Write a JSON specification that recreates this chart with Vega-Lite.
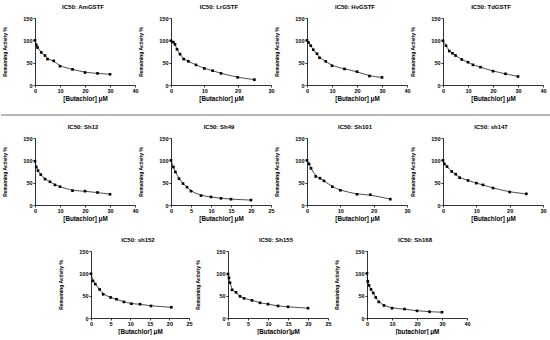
{
  "$schema": "https://vega.github.io/schema/vega-lite/v6.json",
  "padding": {"left": 0, "top": 4, "right": 0, "bottom": 0},
  "background": "white",
  "config": {
    "view": {"stroke": null},
    "font": "Liberation Sans",
    "axis": {"domainColor": "black", "tickColor": "black", "labelColor": "black", "titleColor": "black", "grid": false, "labelFont": "Liberation Sans", "titleFont": "Liberation Sans", "labelFontWeight": "bold", "titleFontWeight": "bold", "labelFontSize": 5.5, "tickSize": 2, "domainWidth": 0.8, "tickWidth": 0.8, "labelPadding": 1, "labelOverlap": false},
    "axisY": {"titlePadding": 15, "titleFontSize": 4.9, "titleColor": "black"},
    "axisX": {"titlePadding": 1.5, "labelFlush": false, "titleFontSize": 6.3, "titleColor": "black"},
    "title": {"fontSize": 6, "fontWeight": "bold", "font": "Liberation Sans", "frame": "group", "offset": 6, "dx": -2, "color": "black"},
    "line": {"color": "black", "strokeWidth": 0.7, "interpolate": "basis"},
    "square": {"color": "black", "filled": true, "size": 7, "opacity": 1}
  },
  "datasets": {
    "AmGSTF": [{"c":0,"a":100},{"c":0.5,"a":90},{"c":1,"a":84},{"c":2.5,"a":73},{"c":4,"a":66},{"c":5,"a":58},{"c":7.5,"a":54},{"c":10,"a":42},{"c":15,"a":35},{"c":20,"a":28},{"c":25,"a":26},{"c":30,"a":24}],
    "LrGSTF": [{"c":0,"a":99},{"c":0.7,"a":96},{"c":1.2,"a":91},{"c":1.8,"a":80},{"c":2.7,"a":69},{"c":3.8,"a":58},{"c":5.2,"a":53},{"c":7.5,"a":45},{"c":10,"a":37},{"c":12.5,"a":32},{"c":15,"a":26},{"c":20,"a":17},{"c":25,"a":12}],
    "HvGSTF": [{"c":0,"a":100},{"c":0.6,"a":95},{"c":1.5,"a":88},{"c":2.5,"a":79},{"c":4,"a":70},{"c":5,"a":61},{"c":7.5,"a":53},{"c":10,"a":43},{"c":15,"a":36},{"c":20,"a":30},{"c":25,"a":20},{"c":30,"a":17}],
    "TdGSTF": [{"c":0,"a":99},{"c":1.2,"a":88},{"c":2.5,"a":76},{"c":3.8,"a":71},{"c":5,"a":66},{"c":7.5,"a":57},{"c":10,"a":51},{"c":12,"a":45},{"c":15,"a":40},{"c":20,"a":31},{"c":25,"a":25},{"c":30,"a":19}],
    "Sh12": [{"c":0,"a":98},{"c":0.5,"a":85},{"c":1.2,"a":77},{"c":2.3,"a":68},{"c":4,"a":58},{"c":6,"a":52},{"c":8,"a":45},{"c":10,"a":41},{"c":15,"a":32},{"c":20,"a":31},{"c":25,"a":28},{"c":30,"a":24}],
    "Sh49": [{"c":0,"a":100},{"c":0.6,"a":85},{"c":1.1,"a":74},{"c":2,"a":59},{"c":3,"a":48},{"c":4,"a":40},{"c":5,"a":31},{"c":7.5,"a":21},{"c":10,"a":18},{"c":12.5,"a":15},{"c":15,"a":13},{"c":20,"a":11}],
    "Sh101": [{"c":0,"a":100},{"c":0.6,"a":92},{"c":1.2,"a":82},{"c":2.6,"a":64},{"c":3.9,"a":60},{"c":5.1,"a":54},{"c":7.6,"a":41},{"c":10,"a":33},{"c":15,"a":24},{"c":19,"a":23},{"c":25,"a":13}],
    "sh147": [{"c":0,"a":100},{"c":0.4,"a":92},{"c":1.2,"a":86},{"c":2.6,"a":75},{"c":3.8,"a":69},{"c":5,"a":61},{"c":7.5,"a":55},{"c":10,"a":49},{"c":12,"a":45},{"c":15,"a":38},{"c":20,"a":29},{"c":25,"a":25}],
    "sh152": [{"c":0,"a":99},{"c":0.5,"a":83},{"c":1.1,"a":76},{"c":2.2,"a":64},{"c":3.1,"a":53},{"c":5,"a":46},{"c":6.5,"a":42},{"c":8.4,"a":36},{"c":10.3,"a":32},{"c":12.5,"a":31},{"c":15.3,"a":27},{"c":20.5,"a":24}],
    "Sh155": [{"c":0,"a":98.5},{"c":0.25,"a":90},{"c":0.5,"a":79},{"c":1,"a":63},{"c":2,"a":57.5},{"c":3,"a":48.5},{"c":4,"a":44},{"c":6,"a":39.5},{"c":8,"a":34},{"c":10,"a":31},{"c":12.5,"a":27},{"c":15,"a":25},{"c":20,"a":22}],
    "Sh168": [{"c":0,"a":100},{"c":0.3,"a":82},{"c":0.8,"a":73},{"c":1.6,"a":64},{"c":2.5,"a":56},{"c":3.5,"a":46},{"c":4.7,"a":36},{"c":6.8,"a":28},{"c":10,"a":22},{"c":15,"a":20},{"c":20,"a":16},{"c":25,"a":14},{"c":30,"a":13}],
    "sep": [{"v": 9}],
    "blank": [{"v": 0}]
  },
  "spacing": 0,
  "vconcat": [
    {
      "hconcat": [
        {"title": "IC50: AmGSTF", "width": 100, "height": 67, "data": {"name": "AmGSTF"},
         "encoding": {"x": {"field": "c", "type": "quantitative", "scale": {"domain": [0, 40]}, "axis": {"title": "[Butachlor] μM", "values": [0, 10, 20, 30, 40]}}, "y": {"field": "a", "type": "quantitative", "scale": {"domain": [0, 150]}, "axis": {"title": "Remaining Activity %", "values": [0, 50, 100, 150]}}},
         "layer": [{"mark": "line"}, {"mark": "square"}]},
        {"title": "IC50: LrGSTF", "width": 100, "height": 67, "data": {"name": "LrGSTF"},
         "encoding": {"x": {"field": "c", "type": "quantitative", "scale": {"domain": [0, 30]}, "axis": {"title": "[Butachlor] μM", "values": [0, 10, 20, 30]}}, "y": {"field": "a", "type": "quantitative", "scale": {"domain": [0, 150]}, "axis": {"title": "Remaining Activity %", "values": [0, 50, 100, 150]}}},
         "layer": [{"mark": "line"}, {"mark": "square"}]},
        {"title": "IC50: HvGSTF", "width": 100, "height": 67, "data": {"name": "HvGSTF"},
         "encoding": {"x": {"field": "c", "type": "quantitative", "scale": {"domain": [0, 40]}, "axis": {"title": "[Butachlor] μM", "values": [0, 10, 20, 30, 40]}}, "y": {"field": "a", "type": "quantitative", "scale": {"domain": [0, 150]}, "axis": {"title": "Remaining Activity %", "values": [0, 50, 100, 150]}}},
         "layer": [{"mark": "line"}, {"mark": "square"}]},
        {"title": "IC50: TdGSTF", "width": 100, "height": 67, "data": {"name": "TdGSTF"},
         "encoding": {"x": {"field": "c", "type": "quantitative", "scale": {"domain": [0, 40]}, "axis": {"title": "[Butachlor] μM", "values": [0, 10, 20, 30, 40]}}, "y": {"field": "a", "type": "quantitative", "scale": {"domain": [0, 150]}, "axis": {"title": "Remaining Activity %", "values": [0, 50, 100, 150]}}},
         "layer": [{"mark": "line"}, {"mark": "square"}]}
      ],
      "spacing": 36, "bounds": "flush"
    },
    {
      "width": 516, "height": 22, "data": {"name": "sep"},
      "mark": {"type": "rule", "color": "#a0a0a0", "strokeWidth": 1.5},
      "encoding": {
        "x": {"datum": -34, "type": "quantitative", "scale": {"domain": [0, 516]}, "axis": null},
        "x2": {"datum": 516},
        "y": {"field": "v", "type": "quantitative", "scale": {"domain": [0, 22]}, "axis": null}
      }
    },
    {
      "hconcat": [
        {"title": "IC50: Sh12", "width": 100, "height": 67, "data": {"name": "Sh12"},
         "encoding": {"x": {"field": "c", "type": "quantitative", "scale": {"domain": [0, 40]}, "axis": {"title": "[Butachlor] μM", "values": [0, 10, 20, 30, 40]}}, "y": {"field": "a", "type": "quantitative", "scale": {"domain": [0, 150]}, "axis": {"title": "Remaining Activity %", "values": [0, 50, 100, 150]}}},
         "layer": [{"mark": "line"}, {"mark": "square"}]},
        {"title": "IC50: Sh49", "width": 100, "height": 67, "data": {"name": "Sh49"},
         "encoding": {"x": {"field": "c", "type": "quantitative", "scale": {"domain": [0, 25]}, "axis": {"title": "[Butachlor] μM", "values": [0, 5, 10, 15, 20, 25]}}, "y": {"field": "a", "type": "quantitative", "scale": {"domain": [0, 150]}, "axis": {"title": "Remaining Activity %", "values": [0, 50, 100, 150]}}},
         "layer": [{"mark": "line"}, {"mark": "square"}]},
        {"title": "IC50: Sh101", "width": 100, "height": 67, "data": {"name": "Sh101"},
         "encoding": {"x": {"field": "c", "type": "quantitative", "scale": {"domain": [0, 30]}, "axis": {"title": "[Butachlor] μM", "values": [0, 10, 20, 30]}}, "y": {"field": "a", "type": "quantitative", "scale": {"domain": [0, 150]}, "axis": {"title": "Remaining Activity %", "values": [0, 50, 100, 150]}}},
         "layer": [{"mark": "line"}, {"mark": "square"}]},
        {"title": "IC50: sh147", "width": 100, "height": 67, "data": {"name": "sh147"},
         "encoding": {"x": {"field": "c", "type": "quantitative", "scale": {"domain": [0, 30]}, "axis": {"title": "[Butachlor] μM", "values": [0, 10, 20, 30]}}, "y": {"field": "a", "type": "quantitative", "scale": {"domain": [0, 150]}, "axis": {"title": "Remaining Activity %", "values": [0, 50, 100, 150]}}},
         "layer": [{"mark": "line"}, {"mark": "square"}]}
      ],
      "spacing": 36, "bounds": "flush"
    },
    {
      "width": 516, "height": 15, "data": {"name": "blank"},
      "mark": {"type": "rule", "strokeOpacity": 0},
      "encoding": {"y": {"field": "v", "type": "quantitative", "axis": null}}
    },
    {
      "hconcat": [
        {"width": 17, "height": 10, "data": {"name": "blank"},
         "mark": {"type": "rule", "strokeOpacity": 0},
         "encoding": {"y": {"field": "v", "type": "quantitative", "axis": null}}},
        {"title": "IC50: sh152", "width": 98, "height": 67, "data": {"name": "sh152"},
         "encoding": {"x": {"field": "c", "type": "quantitative", "scale": {"domain": [0, 25]}, "axis": {"title": "[Butachlor] μM", "values": [0, 5, 10, 15, 20, 25]}}, "y": {"field": "a", "type": "quantitative", "scale": {"domain": [0, 150]}, "axis": {"title": "Remaining Activity %", "values": [0, 50, 100, 150]}}},
         "layer": [{"mark": "line"}, {"mark": "square"}]},
        {"title": "IC50: Sh155", "width": 100, "height": 67, "data": {"name": "Sh155"},
         "encoding": {"x": {"field": "c", "type": "quantitative", "scale": {"domain": [0, 25]}, "axis": {"title": "[Butachlor]μM", "values": [0, 5, 10, 15, 20, 25]}}, "y": {"field": "a", "type": "quantitative", "scale": {"domain": [0, 150]}, "axis": {"title": "Remaining Activity %", "values": [0, 50, 100, 150]}}},
         "layer": [{"mark": "line"}, {"mark": "square"}]},
        {"title": "IC50: Sh168", "width": 100, "height": 67, "data": {"name": "Sh168"},
         "encoding": {"x": {"field": "c", "type": "quantitative", "scale": {"domain": [0, 40]}, "axis": {"title": "[butachlor] μM", "values": [0, 10, 20, 30, 40]}}, "y": {"field": "a", "type": "quantitative", "scale": {"domain": [0, 150]}, "axis": {"title": "Remaining Activity %", "values": [0, 50, 100, 150]}}},
         "layer": [{"mark": "line"}, {"mark": "square"}]}
      ],
      "spacing": 39, "bounds": "flush"
    }
  ]
}
